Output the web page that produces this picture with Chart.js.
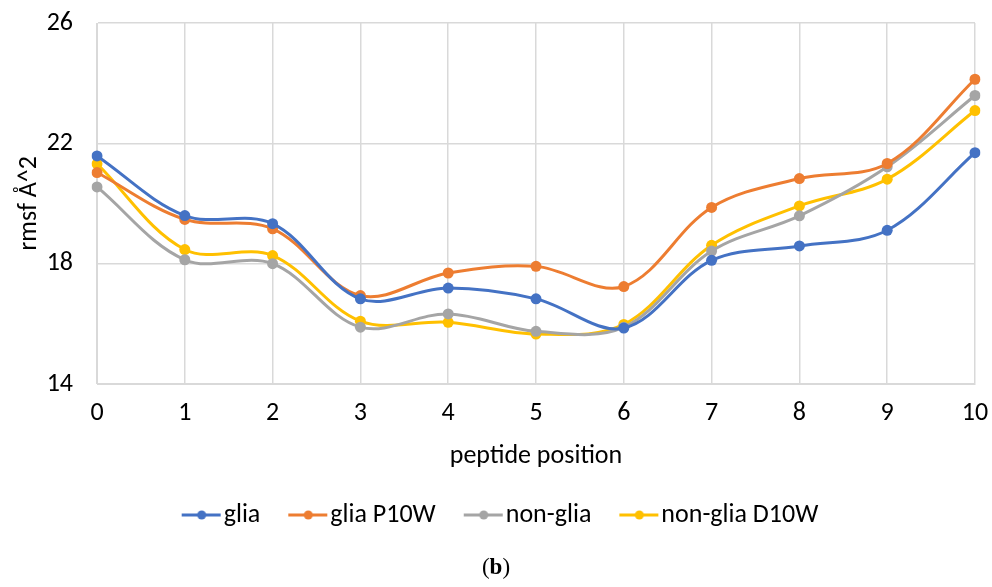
<!DOCTYPE html>
<html>
<head>
<meta charset="utf-8">
<script src="https://cdn.jsdelivr.net/npm/chart.js@4.4.1/dist/chart.umd.min.js"></script>
<style>
  html, body { margin: 0; padding: 0; background: #fff; }
  #wrap { position: relative; width: 992px; height: 587px; }
  #caption { position: absolute; left: 0; top: 554px; width: 992px; text-align: center;
    font-family: "Liberation Serif", serif; font-size: 23px; color: #000; }
</style>
</head>
<body>
<div id="wrap">
  <canvas id="chart" width="992" height="587"></canvas>
  <div id="caption">(<b>b</b>)</div>
</div>
<script>
const positions = ["0", "1", "2", "3", "4", "5", "6", "7", "8", "9", "10"];
const glia = [21.58, 19.6, 19.33, 16.83, 17.19, 16.83, 15.86, 18.11, 18.59, 19.11, 21.69];
const gliaP10W = [21.03, 19.47, 19.16, 16.94, 17.69, 17.91, 17.24, 19.87, 20.83, 21.33, 24.13];
const nonGlia = [20.55, 18.13, 18.0, 15.89, 16.33, 15.75, 15.89, 18.42, 19.59, 21.22, 23.59];
const nonGliaD10W = [21.32, 18.47, 18.27, 16.09, 16.05, 15.66, 15.98, 18.61, 19.92, 20.81, 23.09];
const yTicks = [14, 18, 22, 26];

const font = "Carlito, Calibri, 'Open Sans', sans-serif";
const size = 26;

// line + dot swatch for the legend, drawn on the right part of the canvas
// so the text sits close to it like in Excel
const swatch = (color) => {
  let c = document.createElement("canvas");
  c.width = 62;
  c.height = 12;
  let ctx = c.getContext("2d");
  ctx.strokeStyle = color;
  ctx.lineWidth = 3;
  ctx.beginPath();
  ctx.moveTo(22, 6);
  ctx.lineTo(61, 6);
  ctx.stroke();
  ctx.fillStyle = color;
  ctx.beginPath();
  ctx.arc(42, 6, 4.5, 0, Math.PI * 2);
  ctx.fill();
  return c;
};

const makeSet = (label, data, color) => ({
  label: label,
  data: data,
  borderColor: color,
  backgroundColor: color,
  borderWidth: 3,
  pointRadius: 5.5,
  pointBorderWidth: 0,
  tension: 0.35,
  fill: false,
});

new Chart(document.getElementById("chart"), {
  type: "line",
  data: {
    labels: positions,
    datasets: [
      makeSet("glia", glia, "#4472C4"),
      makeSet("glia P10W", gliaP10W, "#ED7D31"),
      makeSet("non-glia", nonGlia, "#A5A5A5"),
      makeSet("non-glia D10W", nonGliaD10W, "#FFC000"),
    ],
  },
  options: {
    responsive: false,
    animation: false,
    layout: { padding: { left: 14, right: 17, top: 23, bottom: 49 } },
    plugins: {
      tooltip: { enabled: false },
      legend: {
        position: "bottom",
        labels: {
          color: "#000",
          font: { family: font, size: size },
          usePointStyle: true,
          pointStyleWidth: 40,
          padding: 17,
          generateLabels: (chart) =>
            chart.data.datasets.map((ds, i) => ({
              text: ds.label,
              pointStyle: swatch(ds.borderColor),
              fillStyle: ds.borderColor,
              strokeStyle: ds.borderColor,
              lineWidth: 0,
              datasetIndex: i,
              fontColor: "#000",
            })),
        },
      },
    },
    scales: {
      x: {
        type: "category",
        offset: false,
        grid: { color: "#D9D9D9", lineWidth: 1.5, drawTicks: false },
        border: { color: "#D9D9D9" },
        ticks: { color: "#000", font: { family: font, size: size }, padding: 14 },
        title: {
          display: true,
          text: "peptide position",
          color: "#000",
          font: { family: font, size: size },
          padding: { top: 13, bottom: 13 },
        },
        afterFit: (axis) => {
          axis.height = 101;
          axis.paddingLeft = 0;
          axis.paddingRight = 0;
        },
      },
      y: {
        min: 14,
        max: 26,
        afterBuildTicks: (axis) => {
          axis.ticks = yTicks.map((v) => ({ value: v }));
        },
        grid: { color: "#D9D9D9", lineWidth: 1.5, drawTicks: false },
        border: { color: "#D9D9D9" },
        ticks: { color: "#000", font: { family: font, size: size }, padding: 24 },
        title: {
          display: true,
          text: "rmsf Å^2",
          color: "#000",
          font: { family: font, size: size },
          padding: { top: 0, bottom: 0 },
        },
        afterFit: (axis) => {
          axis.width = 83;
          axis.paddingTop = 0;
          axis.paddingBottom = 0;
        },
      },
    },
  },
});
</script>
</body>
</html>
